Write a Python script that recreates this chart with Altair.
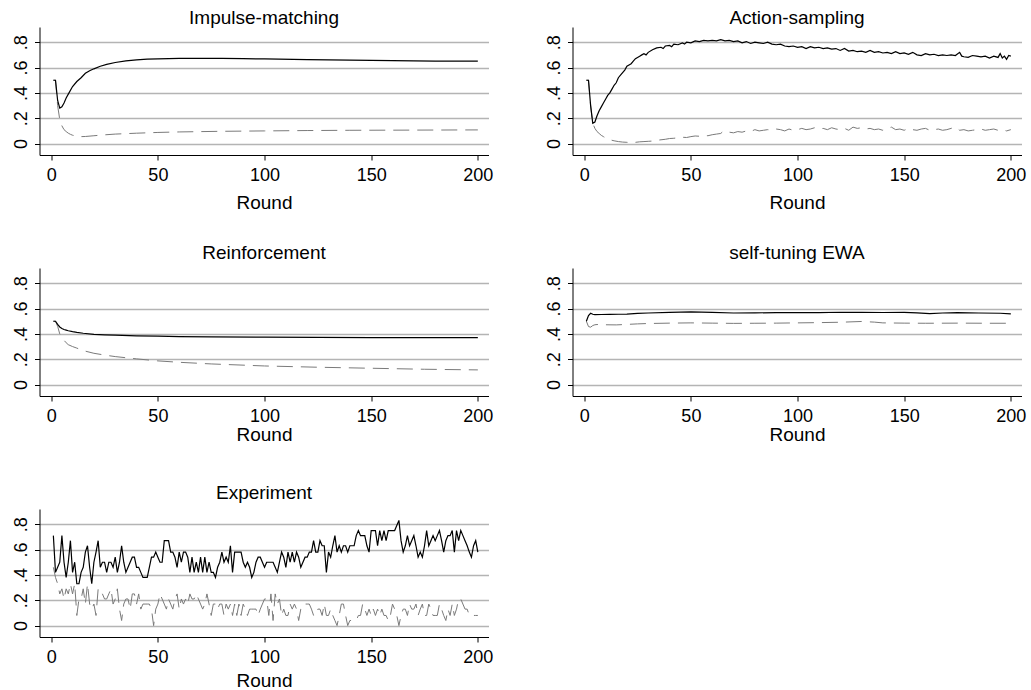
import altair as alt
import pandas as pd

# ---------------- data ----------------
# Impulse-matching
im_solid_r = [1, 2, 3, 4, 5, 6, 7, 8, 10, 12, 14, 16, 18, 20, 23, 26, 30, 35, 40, 45, 50, 60, 70, 80, 90, 100, 120, 140, 160, 180, 200]
im_solid_v = [0.50, 0.50, 0.34, 0.28, 0.29, 0.32, 0.36, 0.39, 0.45, 0.49, 0.52, 0.555, 0.575, 0.59, 0.61, 0.625, 0.64, 0.652, 0.66, 0.666, 0.669, 0.672, 0.673, 0.672, 0.670, 0.668, 0.663, 0.658, 0.654, 0.651, 0.65]
im_dash_r = [1, 2, 3, 4, 5, 6, 7, 8, 9, 10, 12, 14, 16, 20, 25, 30, 40, 50, 60, 80, 100, 120, 140, 160, 180, 200]
im_dash_v = [0.50, 0.50, 0.30, 0.19, 0.14, 0.11, 0.095, 0.082, 0.073, 0.066, 0.058, 0.055, 0.056, 0.062, 0.069, 0.075, 0.082, 0.088, 0.092, 0.097, 0.10, 0.103, 0.105, 0.106, 0.107, 0.108]

# Action-sampling
as_solid_r = [1, 2, 3, 4, 5, 6, 7, 8, 9, 10, 11, 12, 13, 14, 15, 16, 17, 18, 19, 20, 21, 22, 23, 24, 25, 26, 27, 28, 29, 30,
              32, 34, 36, 37, 38, 40, 41, 42, 44, 46, 47, 48, 50, 52, 54, 56, 58, 60, 62, 64, 66, 68, 70, 72, 74, 76, 78, 80,
              82, 84, 86, 88, 90, 92, 94, 96, 98, 100, 102, 104, 106, 108, 110, 112, 114, 116, 118, 120, 122, 124, 126, 128,
              130, 132, 134, 136, 138, 140, 142, 144, 146, 148, 150, 152, 154, 156, 158, 160, 162, 164, 166, 168, 170, 172,
              174, 176, 177, 178, 180, 182, 184, 186, 188, 190, 192, 194, 195, 196, 197, 198, 199, 200]
as_solid_v = [0.50, 0.50, 0.30, 0.16, 0.17, 0.22, 0.26, 0.29, 0.32, 0.35, 0.38, 0.40, 0.43, 0.46, 0.48, 0.52, 0.54, 0.56, 0.58, 0.61,
              0.62, 0.63, 0.65, 0.67, 0.68, 0.69, 0.70, 0.71, 0.70, 0.72,
              0.74, 0.755, 0.76, 0.75, 0.77, 0.775, 0.765, 0.785, 0.78, 0.795, 0.785, 0.80, 0.795, 0.81, 0.805, 0.815, 0.81, 0.815,
              0.81, 0.82, 0.81, 0.815, 0.805, 0.81, 0.795, 0.805, 0.79, 0.80,
              0.795, 0.79, 0.80, 0.785, 0.78, 0.785, 0.77, 0.765, 0.77, 0.76, 0.765, 0.75, 0.765, 0.755, 0.76, 0.75, 0.755, 0.745,
              0.75, 0.735, 0.75, 0.73, 0.735, 0.725,
              0.73, 0.72, 0.735, 0.72, 0.725, 0.715, 0.72, 0.71, 0.725, 0.71, 0.715, 0.705, 0.72, 0.70, 0.695, 0.71, 0.70, 0.705,
              0.695, 0.70, 0.695, 0.70,
              0.695, 0.72, 0.69, 0.685, 0.68, 0.695, 0.69, 0.685, 0.69, 0.675, 0.69, 0.68, 0.71, 0.675, 0.69, 0.665, 0.695, 0.69]
as_dash_r = [1, 2, 3, 4, 5, 6, 7, 8, 9, 10, 12, 14, 16, 18, 20, 22, 24, 26, 28, 30, 32, 34, 36, 38, 40, 42, 44, 46, 48, 50,
             52, 54, 56, 58, 60, 62, 64, 65, 66, 68, 70, 72, 74, 76, 78, 80, 82, 84, 86, 88, 90, 92, 94, 96, 98, 100,
             102, 104, 106, 108, 110, 112, 114, 116, 118, 120, 122, 124, 126, 128, 130, 132, 134, 136, 138, 140, 142, 144,
             146, 148, 150, 152, 154, 156, 158, 160, 162, 164, 166, 168, 170, 172, 174, 176, 178, 180, 182, 184, 186, 188,
             190, 192, 194, 196, 198, 200]
as_dash_v = [0.50, 0.50, 0.30, 0.16, 0.12, 0.095, 0.08, 0.065, 0.055, 0.045, 0.03, 0.022, 0.016, 0.012, 0.01, 0.008, 0.01, 0.014,
             0.016, 0.018, 0.02, 0.026, 0.03, 0.034, 0.04, 0.042, 0.046, 0.05, 0.048, 0.055,
             0.06, 0.058, 0.065, 0.062, 0.07, 0.075, 0.08, 0.095, 0.085, 0.09, 0.085, 0.095, 0.09, 0.10, 0.095, 0.11, 0.10, 0.105,
             0.11, 0.105, 0.115, 0.11, 0.10, 0.115, 0.105, 0.11,
             0.12, 0.11, 0.115, 0.125, 0.115, 0.12, 0.11, 0.125, 0.115, 0.11, 0.12, 0.105, 0.13, 0.12, 0.125, 0.115, 0.12, 0.11,
             0.115, 0.105, 0.12, 0.13,
             0.11, 0.115, 0.105, 0.12, 0.11, 0.105, 0.115, 0.12, 0.105, 0.11, 0.115, 0.105, 0.11, 0.12, 0.13, 0.105, 0.11, 0.10,
             0.105, 0.11, 0.115, 0.105,
             0.11, 0.115, 0.105, 0.11, 0.10, 0.11]

# Reinforcement
re_solid_r = [1, 2, 3, 4, 5, 6, 7, 8, 10, 12, 15, 20, 25, 30, 40, 50, 60, 75, 100, 125, 150, 175, 200]
re_solid_v = [0.50, 0.50, 0.475, 0.455, 0.443, 0.435, 0.43, 0.425, 0.418, 0.412, 0.405, 0.397, 0.393, 0.39, 0.385, 0.382, 0.379, 0.376, 0.374, 0.372, 0.371, 0.371, 0.371]
re_dash_r = [1, 2, 3, 4, 5, 6, 7, 8, 10, 12, 15, 20, 25, 30, 40, 50, 60, 75, 100, 125, 150, 175, 200]
re_dash_v = [0.50, 0.50, 0.46, 0.40, 0.37, 0.35, 0.33, 0.315, 0.30, 0.288, 0.268, 0.247, 0.233, 0.221, 0.203, 0.187, 0.176, 0.163, 0.147, 0.137, 0.129, 0.121, 0.116]

# self-tuning EWA
ew_solid_r = [1, 2, 3, 4, 5, 8, 12, 16, 20, 25, 30, 40, 50, 60, 70, 80, 90, 100, 110, 120, 130, 140, 150, 156, 162, 168, 175, 185, 195, 200]
ew_solid_v = [0.50, 0.545, 0.563, 0.555, 0.552, 0.553, 0.554, 0.555, 0.556, 0.562, 0.565, 0.57, 0.574, 0.57, 0.565, 0.566, 0.568, 0.568, 0.568, 0.571, 0.57, 0.569, 0.57, 0.566, 0.56, 0.565, 0.568, 0.565, 0.563, 0.558]
ew_dash_r = [1, 2, 3, 4, 5, 6, 10, 15, 20, 25, 30, 40, 50, 60, 70, 80, 90, 100, 110, 120, 130, 136, 140, 150, 160, 175, 190, 200]
ew_dash_v = [0.50, 0.458, 0.453, 0.466, 0.472, 0.474, 0.472, 0.471, 0.475, 0.479, 0.482, 0.485, 0.487, 0.485, 0.483, 0.484, 0.485, 0.487, 0.489, 0.492, 0.498, 0.493, 0.487, 0.485, 0.484, 0.485, 0.484, 0.484]

# Experiment (every round 1..200)
ex_rounds = list(range(1, 201))
ex_solid_v = [
    0.71, 0.42, 0.46, 0.50, 0.71, 0.50, 0.38, 0.50, 0.67, 0.42,
    0.50, 0.33, 0.33, 0.42, 0.46, 0.58, 0.63, 0.46, 0.33, 0.50,
    0.58, 0.67, 0.46, 0.50, 0.50, 0.42, 0.50, 0.50, 0.46, 0.54,
    0.42, 0.50, 0.63, 0.50, 0.42, 0.46, 0.50, 0.54, 0.54, 0.46,
    0.46, 0.42, 0.38, 0.38, 0.38, 0.46, 0.54, 0.54, 0.58, 0.54,
    0.50, 0.50, 0.67, 0.67, 0.67, 0.58, 0.58, 0.54, 0.46, 0.58,
    0.50, 0.58, 0.58, 0.54, 0.42, 0.54, 0.42, 0.50, 0.42, 0.54,
    0.42, 0.54, 0.42, 0.50, 0.42, 0.42, 0.38, 0.46, 0.50, 0.58,
    0.50, 0.54, 0.50, 0.63, 0.42, 0.58, 0.58, 0.58, 0.58, 0.50,
    0.46, 0.50, 0.46, 0.38, 0.42, 0.50, 0.54, 0.54, 0.50, 0.46,
    0.50, 0.50, 0.50, 0.50, 0.46, 0.42, 0.50, 0.58, 0.54, 0.46,
    0.58, 0.50, 0.58, 0.50, 0.58, 0.54, 0.46, 0.50, 0.54, 0.54,
    0.58, 0.58, 0.67, 0.58, 0.58, 0.67, 0.63, 0.63, 0.42, 0.58,
    0.54, 0.63, 0.71, 0.58, 0.63, 0.58, 0.63, 0.63, 0.58, 0.63,
    0.63, 0.63, 0.71, 0.75, 0.71, 0.71, 0.71, 0.63, 0.58, 0.75,
    0.75, 0.75, 0.63, 0.75, 0.67, 0.75, 0.67, 0.75, 0.75, 0.75,
    0.75, 0.79, 0.83, 0.67, 0.58, 0.63, 0.71, 0.63, 0.67, 0.71,
    0.63, 0.54, 0.58, 0.54, 0.63, 0.75, 0.63, 0.67, 0.71, 0.67,
    0.71, 0.75, 0.67, 0.58, 0.67, 0.71, 0.71, 0.75, 0.58, 0.75,
    0.67, 0.75, 0.71, 0.67, 0.63, 0.58, 0.54, 0.63, 0.67, 0.58,
]
ex_dash_v = [
    0.46, 0.38, 0.33, 0.25, 0.29, 0.21, 0.29, 0.25, 0.33, 0.25,
    0.33, 0.08, 0.21, 0.21, 0.29, 0.17, 0.33, 0.17, 0.13, 0.17,
    0.08, 0.29, 0.29, 0.25, 0.21, 0.21, 0.25, 0.29, 0.17, 0.21,
    0.29, 0.13, 0.04, 0.17, 0.21, 0.21, 0.13, 0.25, 0.25, 0.17,
    0.25, 0.13, 0.17, 0.17, 0.17, 0.17, 0.13, 0.00, 0.13, 0.17,
    0.25, 0.21, 0.17, 0.13, 0.21, 0.17, 0.13, 0.21, 0.25, 0.13,
    0.21, 0.17, 0.21, 0.17, 0.25, 0.21, 0.21, 0.25, 0.21, 0.17,
    0.13, 0.17, 0.25, 0.17, 0.08, 0.17, 0.17, 0.13, 0.17, 0.17,
    0.08, 0.17, 0.13, 0.17, 0.08, 0.17, 0.08, 0.17, 0.08, 0.17,
    0.13, 0.08, 0.13, 0.13, 0.13, 0.13, 0.08, 0.13, 0.17, 0.21,
    0.21, 0.08, 0.25, 0.04, 0.25, 0.17, 0.21, 0.08, 0.13, 0.08,
    0.08, 0.17, 0.13, 0.17, 0.13, 0.04, 0.13, 0.13, 0.17, 0.17,
    0.17, 0.13, 0.08, 0.08, 0.13, 0.13, 0.08, 0.17, 0.08, 0.08,
    0.13, 0.08, 0.04, 0.00, 0.08, 0.17, 0.17, 0.08, 0.00, 0.04,
    0.04, 0.04, 0.04, 0.08, 0.08, 0.17, 0.13, 0.08, 0.13, 0.08,
    0.13, 0.08, 0.13, 0.08, 0.13, 0.08, 0.08, 0.04, 0.08, 0.17,
    0.13, 0.08, 0.00, 0.08, 0.13, 0.13, 0.08, 0.17, 0.13, 0.13,
    0.17, 0.08, 0.13, 0.17, 0.08, 0.08, 0.17, 0.13, 0.08, 0.08,
    0.08, 0.17, 0.13, 0.08, 0.04, 0.13, 0.08, 0.17, 0.08, 0.13,
    0.21, 0.21, 0.17, 0.13, 0.13, 0.08, 0.08, 0.08, 0.08, 0.08,
]

x_ticks = [0, 50, 100, 150, 200]
y_ticks = [0, 0.2, 0.4, 0.6, 0.8]

FONT = "Liberation Sans"
W, H = 449, 128


def panel(title, sr, sv, dr, dv, title_offset, xtitle_pad):
    df_s = pd.DataFrame({"Round": sr, "v": sv})
    df_d = pd.DataFrame({"Round": dr, "v": dv})
    x = alt.X(
        "Round:Q",
        scale=alt.Scale(domain=[-5.5, 205], nice=False, zero=False),
        axis=alt.Axis(
            values=x_ticks, title="Round", grid=False, domainColor="black",
            tickColor="black", tickSize=5, labelPadding=6, labelFontSize=18,
            titleFontSize=19, titleFontWeight="normal", titlePadding=xtitle_pad,
            labelColor="black", titleColor="black", labelFlush=False,
        ),
    )
    y = alt.Y(
        "v:Q",
        scale=alt.Scale(domain=[-0.09, 0.92], nice=False, zero=False),
        axis=alt.Axis(
            values=y_ticks, title=None, grid=True, gridColor="#b4b4b4",
            gridWidth=1.3, domainColor="black", tickColor="black", tickSize=5,
            labelPadding=4, labelFontSize=18, labelAngle=270, labelColor="black",
            labelExpr="datum.value == 0 ? '0' : '.' + format(datum.value * 10, '.0f')",
        ),
    )
    dashed = alt.Chart(df_d).mark_line(
        color="#7a7a7a", strokeWidth=1, strokeDash=[16, 8]
    ).encode(x=x, y=y)
    solid = alt.Chart(df_s).mark_line(color="black", strokeWidth=1.2).encode(x=x, y=y)
    return alt.layer(dashed, solid).properties(
        width=W,
        height=H,
        title=alt.TitleParams(
            title, fontSize=19, fontWeight="normal", anchor="middle",
            offset=title_offset, color="black", font=FONT, baseline="alphabetic",
        ),
    )


p1 = panel("Impulse-matching", im_solid_r, im_solid_v, im_dash_r, im_dash_v, -16, 9)
p2 = panel("Action-sampling", as_solid_r, as_solid_v, as_dash_r, as_dash_v, -16, 9)
p3 = panel("Reinforcement", re_solid_r, re_solid_v, re_dash_r, re_dash_v, -10, 0)
p4 = panel("self-tuning EWA", ew_solid_r, ew_solid_v, ew_dash_r, ew_dash_v, -10, 0)
p5 = panel("Experiment", ex_rounds, ex_solid_v, ex_rounds, ex_dash_v, -8.5, 5)

chart = alt.concat(
    p1, p2, p3, p4, p5,
    columns=2,
    spacing=alt.RowColnumber(row=113, column=84),
    bounds="flush",
).properties(
    padding={"left": 12.5, "top": 9, "right": 0, "bottom": 0},
    background="white",
).configure(font=FONT).configure_view(stroke=None)

chart.save("out.html", embed_options={"renderer": "svg", "actions": False})
